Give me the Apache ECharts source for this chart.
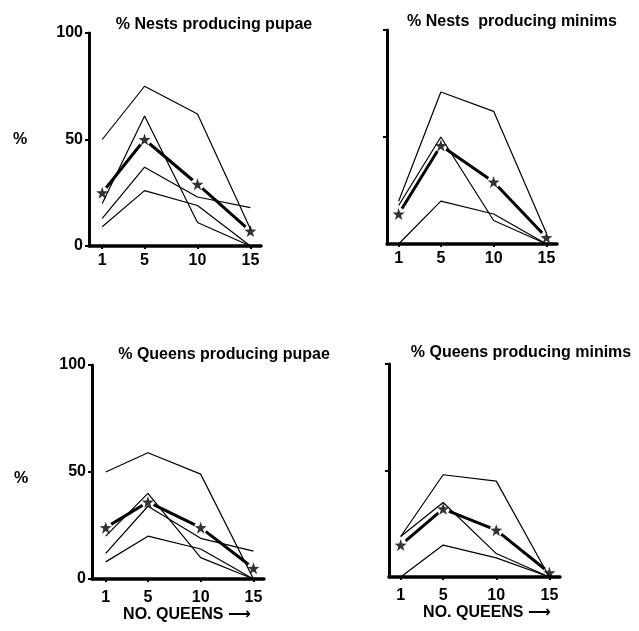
<!DOCTYPE html>
<html><head><meta charset="utf-8">
<script src="https://cdn.jsdelivr.net/npm/echarts@6/dist/echarts.min.js"></script>
<style>html,body{margin:0;padding:0;background:#fff}#c{width:639px;height:631px}</style>
</head><body><div id="c"></div>
<script>
// ---- data ----
const xQueens = [1, 5, 10, 15];
const yTicks = [0, 50, 100];
const panelTitles = ['% Nests producing pupae', '% Nests  producing minims', '% Queens producing pupae', '% Queens producing minims'];
const yAxisName = '%';
const xAxisName = 'NO. QUEENS';
const xAxisArrow = '\u27F6';

const nestsPupaeLines = [[50, 75, 62, 8], [20, 61, 11, 0], [13, 37, 23, 18], [9, 26, 19, 0]];
const nestsPupaeMean = [25, 50, 29, 7];
const nestsMinimsLines = [[20, 71, 62, 5], [18, 50, 11, 0], [0, 20, 14, 0]];
const nestsMinimsMean = [14, 46, 29, 3];
const queensPupaeLines = [[50, 59, 49, 0], [20, 40, 10, 0], [12, 34, 19, 13], [8, 20, 14, 0]];
const queensPupaeMean = [24, 36, 24, 5];
const queensMinimsLines = [[19, 48, 45, 0], [19, 35, 11, 0], [0, 15, 9, 0]];
const queensMinimsMean = [15, 32, 22, 2];

// ---- layout ----
const FONT = 'Liberation Sans';
const panels = [
  {lines: nestsPupaeLines, mean: nestsPupaeMean, left: 89, top: 33, width: 172, height: 213, xMin: -0.25, yLabels: true, tx: 214, ty: 25, lm: 7},
  {lines: nestsMinimsLines, mean: nestsMinimsMean, left: 387, top: 30, width: 170, height: 214, xMin: -0.1, yLabels: false, tx: 512, ty: 22, lm: 7},
  {lines: queensPupaeLines, mean: queensPupaeMean, left: 92, top: 365, width: 172, height: 214, xMin: -0.3, yLabels: true, tx: 224, ty: 355, lm: 11},
  {lines: queensMinimsLines, mean: queensMinimsMean, left: 389, top: 364, width: 171, height: 213, xMin: -0.1, yLabels: false, tx: 521, ty: 353, lm: 11}
];
const starPath = 'path://M0,-10L2.35,-3.24L9.51,-3.09L3.8,1.24L5.88,8.09L0,4L-5.88,8.09L-3.8,1.24L-9.51,-3.09L-2.35,-3.24Z';

const grid = [], xAxis = [], yAxis = [], series = [], graphic = [];
panels.forEach((p, i) => {
  grid.push({left: p.left, top: p.top, width: p.width, height: p.height, containLabel: false});
  xAxis.push({
    type: 'value', gridIndex: i, min: p.xMin, max: 16, z: 5,
    splitLine: {show: false},
    axisLine: {show: true, onZero: false, lineStyle: {color: '#000', width: 3.5}},
    axisTick: {show: true, customValues: xQueens, length: 3, lineStyle: {color: '#000', width: 2}},
    axisLabel: {show: true, customValues: xQueens, color: '#000', fontFamily: FONT, fontWeight: 'bold', fontSize: 16, margin: p.lm}
  });
  yAxis.push({
    type: 'value', gridIndex: i, min: 0, max: 100, z: 5,
    splitLine: {show: false},
    axisLine: {show: true, onZero: false, lineStyle: {color: '#000', width: 3}},
    axisTick: {show: true, customValues: p.yLabels ? yTicks : [50, 100], length: 4, lineStyle: {color: '#000', width: 2}},
    axisLabel: {show: p.yLabels, customValues: yTicks, color: '#000', fontFamily: FONT, fontWeight: 'bold', fontSize: 16, margin: 6}
  });
  series.push({
    type: 'line', xAxisIndex: i, yAxisIndex: i, z: 2, silent: true,
    data: xQueens.map((x, j) => [x, p.mean[j]]),
    lineStyle: {color: '#000', width: 3},
    symbol: 'circle', symbolSize: 13, showAllSymbol: true,
    itemStyle: {color: '#fff', borderWidth: 0}
  });
  p.lines.forEach(vals => {
    series.push({
      type: 'line', xAxisIndex: i, yAxisIndex: i, z: 3, silent: true,
      data: xQueens.map((x, j) => [x, vals[j]]),
      lineStyle: {color: '#000', width: 1.2}, symbol: 'none'
    });
  });
  series.push({
    type: 'scatter', xAxisIndex: i, yAxisIndex: i, z: 4, silent: true,
    data: xQueens.map((x, j) => [x, p.mean[j]]),
    symbol: starPath, symbolSize: 12, itemStyle: {color: '#000'}
  });
  graphic.push({type: 'text', x: p.tx, y: p.ty, style: {text: panelTitles[i], fill: '#000', font: 'bold 16px "' + FONT + '"', textAlign: 'center', textVerticalAlign: 'middle'}});
});
graphic.push({type: 'text', x: 20, y: 140, style: {text: yAxisName, fill: '#000', font: 'bold 16px "' + FONT + '"', textAlign: 'center', textVerticalAlign: 'middle'}});
graphic.push({type: 'text', x: 21, y: 479, style: {text: yAxisName, fill: '#000', font: 'bold 16px "' + FONT + '"', textAlign: 'center', textVerticalAlign: 'middle'}});
[[187, 615], [487, 613]].forEach(([x, y]) => {
  graphic.push({type: 'text', x: x, y: y, style: {
    text: '{a|' + xAxisName + ' }{b|' + xAxisArrow + '}',
    textAlign: 'center', textVerticalAlign: 'middle',
    rich: {
      a: {fill: '#000', fontFamily: FONT, fontWeight: 'bold', fontSize: 16},
      b: {fill: '#000', fontFamily: 'DejaVu Sans', fontWeight: 'bold', fontSize: 16}
    }
  }});
});

const chart = echarts.init(document.getElementById('c'), null, {renderer: 'canvas'});
chart.setOption({animation: false, backgroundColor: '#fff', grid, xAxis, yAxis, series, graphic});
</script></body></html>
